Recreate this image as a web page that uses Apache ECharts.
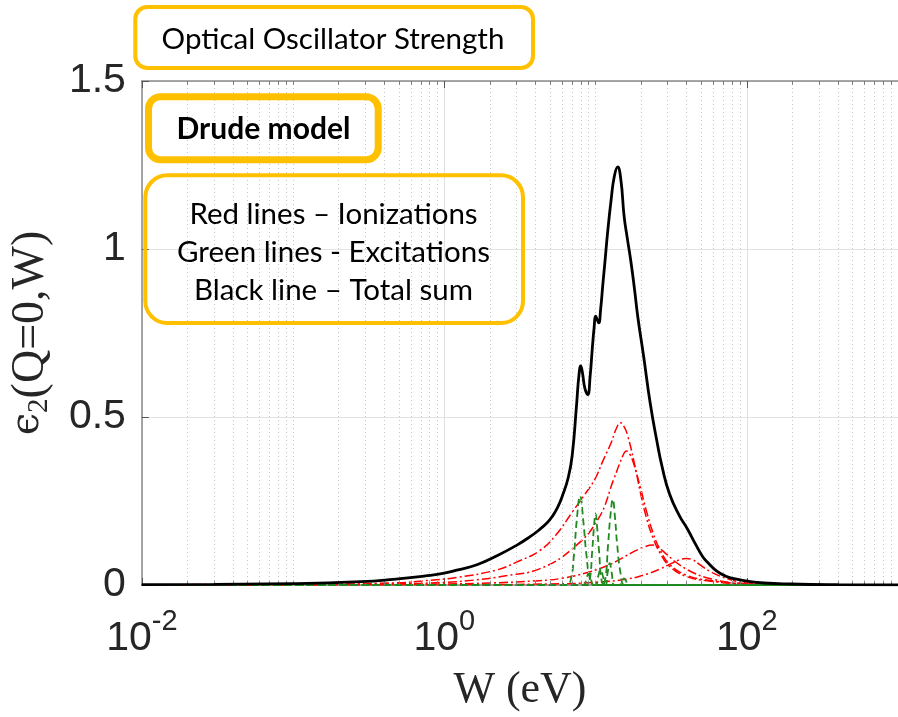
<!DOCTYPE html>
<html>
<head>
<meta charset="utf-8">
<script src="https://cdn.jsdelivr.net/npm/echarts@6/dist/echarts.min.js"></script>
<style>
html,body{margin:0;padding:0;background:#fff;}
#chart{width:898px;height:717px;}
</style>
</head>
<body>
<div id="chart"></div>
<script>
// ---- data ----
const xMajorExp = [-2, 0, 2];
const yTicks = [0, 0.5, 1, 1.5];
const minorTickW = [0.02,0.03,0.04,0.05,0.06,0.07,0.08,0.09,0.1,0.2,0.3,0.4,0.5,0.6,0.7,0.8,0.9,
  2,3,4,5,6,7,8,9,10,20,30,40,50,60,70,80,90,200,300,400,500,600,700,800,900];

const totalW = [0.01,0.03,0.1,0.28,0.46,0.75,1,1.23,1.66,2.23,3.0,3.67,4.26,4.8,5.19,5.6,6.0,6.6,7.0,7.5,7.75,7.98,8.2,8.5,8.88,9.2,9.5,9.8,10.0,10.25,10.5,10.8,11.2,11.5,12.06,12.68,13.3,14.0,14.7,15.45,16.2,17.06,18.1,19.0,20.8,23.0,25.4,27.6,30.9,35.9,40.6,46.0,51.0,56.0,63.0,72.0,84.0,99.0,130,194,400,1000];
const totalV = [0.001,0.002,0.004,0.01,0.017,0.027,0.035,0.045,0.061,0.087,0.118,0.143,0.165,0.186,0.205,0.23,0.262,0.32,0.384,0.54,0.62,0.652,0.63,0.585,0.567,0.62,0.70,0.77,0.80,0.79,0.78,0.82,0.90,0.955,1.057,1.147,1.216,1.244,1.206,1.097,1.033,0.968,0.88,0.80,0.68,0.54,0.43,0.35,0.27,0.206,0.166,0.12,0.085,0.064,0.042,0.027,0.018,0.012,0.006,0.003,0.001,0.0003];

const ion1W = [0.01,0.1,0.46,0.75,1.23,2.23,3.0,4.26,5.5,6.99,8.5,9.9,11.2,12.7,13.7,14.6,15.5,16.3,17.9,19.8,21.7,24,26.7,30.8,39.5,56,100,300,1000];
const ion1V = [0.001,0.002,0.006,0.013,0.023,0.045,0.068,0.102,0.15,0.216,0.27,0.315,0.37,0.424,0.465,0.483,0.47,0.445,0.37,0.275,0.20,0.14,0.095,0.056,0.026,0.012,0.003,0.0005,0];

const ion2W = [0.01,0.1,0.46,1,1.6,2.6,4.26,6.99,10.4,13.2,15.3,16.0,16.8,17.9,19.8,21.7,24,26.7,30.8,39.5,56,100,300,1000];
const ion2V = [0,0.001,0.003,0.008,0.015,0.028,0.048,0.107,0.196,0.315,0.389,0.399,0.39,0.36,0.29,0.22,0.155,0.105,0.062,0.03,0.014,0.004,0.001,0];

const ion3W = [0.01,0.1,1,2,4.26,6,8.95,12,15,18,21,23.6,26,29.4,34.2,43.6,58.5,85,200,1000];
const ion3V = [0,0.001,0.003,0.006,0.013,0.02,0.038,0.058,0.08,0.1,0.113,0.119,0.112,0.092,0.067,0.038,0.018,0.006,0.001,0];

const ion4W = [0.01,1,5,10,16.3,22,26.7,32,36,39.6,44,48.4,58.5,75.5,98,200,1000];
const ion4V = [0,0.001,0.003,0.008,0.018,0.033,0.048,0.065,0.075,0.079,0.075,0.062,0.038,0.018,0.007,0.001,0];

const exc1W = [0.01,6.3,6.8,7.2,7.5,7.9,8.3,8.7,9.2,9.8,1000];
const exc1V = [0,0,0.01,0.09,0.19,0.265,0.19,0.09,0.015,0,0];
const exc2W = [0.01,8.6,9.1,9.5,9.75,10.0,10.25,10.55,11.0,11.6,1000];
const exc2V = [0,0,0.01,0.1,0.17,0.212,0.17,0.1,0.01,0,0];
const exc3W = [0.01,10.8,11.5,12.1,12.5,13.0,13.45,13.9,14.7,15.6,1000];
const exc3V = [0,0,0.01,0.12,0.2,0.255,0.2,0.12,0.03,0,0];
const exc4W = [0.01,8.3,8.7,9.0,9.3,9.7,1000];
const exc4V = [0,0,0.02,0.035,0.02,0,0];
const exc5W = [0.01,10.0,10.4,10.8,11.2,11.6,1000];
const exc5V = [0,0,0.025,0.045,0.025,0,0];
const exc6W = [0.01,11.6,12.0,12.4,12.8,13.3,1000];
const exc6V = [0,0,0.035,0.065,0.035,0,0];
const exc7W = [0.01,14.4,15.0,15.4,15.9,16.5,1000];
const exc7V = [0,0,0.012,0.02,0.012,0,0];

// ---- chart ----
const pairs = (w, v) => w.map((x, i) => [x, v[i]]);
const ions = [[ion1W, ion1V],[ion2W, ion2V],[ion3W, ion3V],[ion4W, ion4V]];
const excs = [[exc1W, exc1V],[exc2W, exc2V],[exc3W, exc3V],[exc4W, exc4V],[exc5W, exc5V],[exc6W, exc6V],[exc7W, exc7V]];

const series = [];
series.push({
  type: 'line', xAxisIndex: 0, yAxisIndex: 0, data: [], silent: true, z: 1,
  markLine: {
    silent: true, symbol: ['none','none'], label: {show: false}, animation: false,
    lineStyle: {type: [1, 3], color: '#c4c4c4', width: 1},
    emphasis: {disabled: true},
    data: minorTickW.map(w => ({xAxis: w}))
  }
});
series.push({
  type: 'line', xAxisIndex: 0, yAxisIndex: 0, data: [], silent: true, z: 1,
  markLine: {
    silent: true, symbol: ['none','none'], label: {show: false}, animation: false,
    lineStyle: {type: 'solid', color: '#7a7a7a', width: 1},
    emphasis: {disabled: true},
    data: minorTickW.map(w => [{coord: [w, 0]}, {coord: [w, 0.011]}])
      .concat(minorTickW.map(w => [{coord: [w, 1.5]}, {coord: [w, 1.489]}]))
  }
});
ions.forEach(([w, v]) => series.push({
  type: 'line', data: pairs(w, v), showSymbol: false, smooth: 0.45, z: 3,
  lineStyle: {color: '#ff0000', width: 1.5, type: [9, 3, 2, 3]}
}));
excs.forEach(([w, v]) => series.push({
  type: 'line', data: pairs(w, v), showSymbol: false, smooth: 0.45, z: 4,
  lineStyle: {color: '#1f8a1f', width: 1.8, type: [7, 4]}
}));
series.push({
  type: 'line', data: pairs(totalW, totalV), showSymbol: false, smooth: 0.5, z: 5,
  lineStyle: {color: '#000000', width: 2.8}
});

const axisGray = '#8a8a8a';
const chart = echarts.init(document.getElementById('chart'), null, {renderer: 'canvas'});
chart.setOption({
  animation: false,
  backgroundColor: '#ffffff',
  grid: {left: 133, top: 81, width: 774, bottom: 131, containLabel: false},
  xAxis: [{
    type: 'log', logBase: 10, min: 0.01, max: 1000, interval: 2,
    position: 'bottom',
    name: 'W (eV)', nameLocation: 'middle', nameGap: 83,
    nameTextStyle: {fontFamily: 'Liberation Serif', fontSize: 44, color: '#262626'},
    axisLine: {show: true, lineStyle: {color: axisGray, width: 1.5}},
    axisTick: {show: true, inside: true, length: 7, lineStyle: {color: '#555'}},
    splitLine: {show: true, lineStyle: {color: '#e0e0e0', width: 1}},
    axisLabel: {
      margin: 22, showMaxLabel: false,
      formatter: function (val) {
        const e = Math.round(Math.log(val) / Math.LN10);
        return xMajorExp.indexOf(e) >= 0 ? '{b|10}{s|' + e + '}' : '';
      },
      rich: {
        b: {fontFamily: 'Liberation Sans', fontSize: 41, lineHeight: 64, color: '#262626'},
        s: {fontFamily: 'Liberation Sans', fontSize: 29, lineHeight: 29, verticalAlign: 'top', color: '#262626'}
      }
    }
  }, {
    type: 'log', logBase: 10, min: 0.01, max: 1000, interval: 2,
    position: 'top',
    axisLine: {show: true, lineStyle: {color: axisGray, width: 1.5}},
    axisTick: {show: true, inside: true, length: 7, lineStyle: {color: '#555'}},
    axisLabel: {show: false},
    splitLine: {show: false}
  }],
  yAxis: {
    type: 'value', min: 0, max: 1.5, interval: 0.5,
    name: '{e|ϵ}{sub|2}{t|(Q=0,W)}', nameLocation: 'middle', nameRotate: 90, nameGap: 78,
    nameTextStyle: {
      rich: {
        e: {fontFamily: 'DejaVu Serif', fontSize: 40, lineHeight: 46, verticalAlign: 'top', padding: [0,0,4,0], color: '#262626'},
        sub: {fontFamily: 'Liberation Serif', fontSize: 29, lineHeight: 29, verticalAlign: 'bottom', color: '#262626'},
        t: {fontFamily: 'Liberation Serif', fontSize: 46, lineHeight: 46, verticalAlign: 'top', padding: [0,0,4,0], color: '#262626'}
      }
    },
    axisLine: {show: true, lineStyle: {color: axisGray, width: 1.5}},
    axisTick: {show: true, inside: true, length: 7, lineStyle: {color: '#555'}},
    splitLine: {show: true, lineStyle: {color: '#e3e3e3', width: 1}},
    axisLabel: {
      margin: 16, fontFamily: 'Liberation Sans', fontSize: 41, color: '#262626',
      formatter: function (val) {
        const i = yTicks.indexOf(val);
        return i >= 0 ? String(yTicks[i]) : '';
      }
    }
  },
  series: series,
  graphic: [
    {type: 'rect', z: 100, shape: {x: 135.3, y: 7, width: 397.7, height: 61, r: 12},
      style: {fill: '#ffffff', stroke: '#FFC000', lineWidth: 4}},
    {type: 'text', z: 101, x: 333, y: 39,
      style: {text: 'Optical Oscillator Strength', fontFamily: 'Lato', fontSize: 29.5, fill: '#000', align: 'center', verticalAlign: 'middle'}},
    {type: 'rect', z: 100, shape: {x: 148.5, y: 96.8, width: 229.7, height: 63, r: 12},
      style: {fill: 'none', stroke: '#FFC000', lineWidth: 7}},
    {type: 'text', z: 101, x: 263.5, y: 129.5,
      style: {text: 'Drude model', fontFamily: 'Lato', fontWeight: 'bold', fontSize: 30, fill: '#000', align: 'center', verticalAlign: 'middle'}},
    {type: 'rect', z: 100, shape: {x: 145.3, y: 175.3, width: 377.7, height: 147.7, r: 22},
      style: {fill: 'none', stroke: '#FFC000', lineWidth: 4}},
    {type: 'text', z: 101, x: 333.5, y: 214,
      style: {text: 'Red lines – Ionizations', fontFamily: 'Lato', fontSize: 29.5, fill: '#000', align: 'center', verticalAlign: 'middle'}},
    {type: 'text', z: 101, x: 333.5, y: 252,
      style: {text: 'Green lines - Excitations', fontFamily: 'Lato', fontSize: 29.5, fill: '#000', align: 'center', verticalAlign: 'middle'}},
    {type: 'text', z: 101, x: 333.5, y: 290,
      style: {text: 'Black line – Total sum', fontFamily: 'Lato', fontSize: 29.5, fill: '#000', align: 'center', verticalAlign: 'middle'}}
  ]
});
</script>
</body>
</html>
